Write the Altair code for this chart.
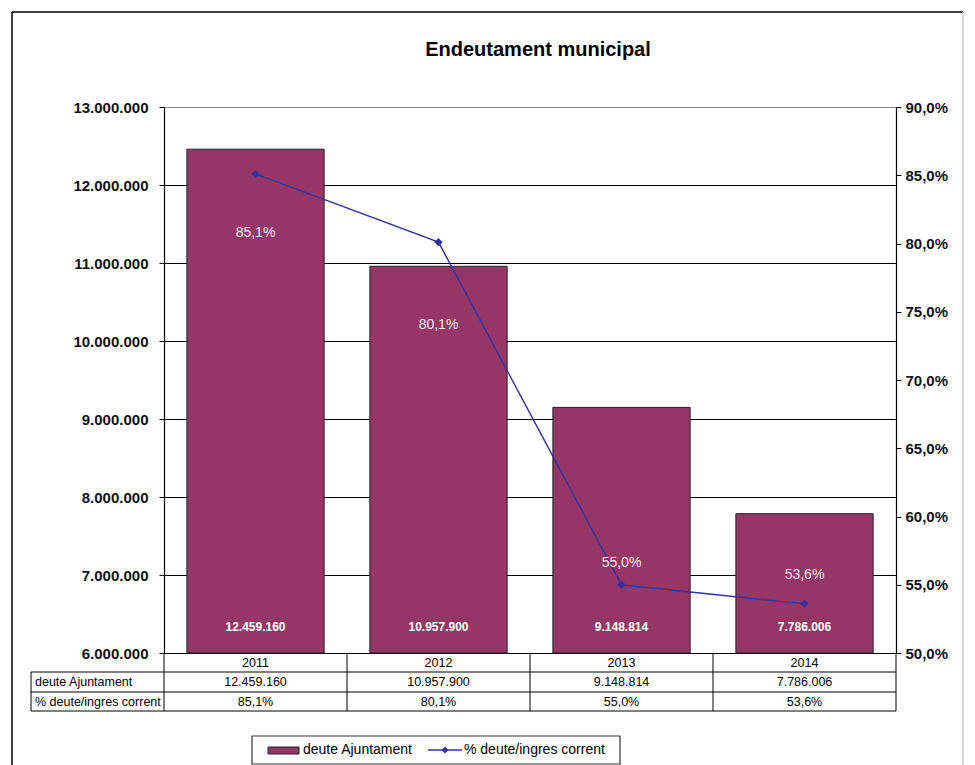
import altair as alt
import pandas as pd

# ---- data ----
years = ["2011", "2012", "2013", "2014"]
deute = [12459160, 10957900, 9148814, 7786006]
pct = [85.1, 80.1, 55.0, 53.6]
pct_label_pos = [80.8, 74.0, 56.6, 55.7]   # where the % labels sit (in % axis units)
bar_label_pos = 6330000                     # where the value labels sit (in € axis units)
row_names = ["deute Ajuntament", "% deute/ingres corrent"]
title_text = "Endeutament municipal"

df = pd.DataFrame({"year": years, "deute": deute, "pct": pct, "lab": pct_label_pos})

FONT = "Liberation Sans"
BAR = "#943767"
LINE = "#3333a0"
W, H = 732, 546

xenc = alt.X("year:N", sort=years,
             scale=alt.Scale(paddingInner=0.25, paddingOuter=0.125), axis=None)

left_scale = alt.Scale(domain=[6000000, 13000000], zero=False, nice=False)
left_axis = alt.Axis(orient="left", values=list(range(6000000, 13000001, 1000000)),
                     format=",.0f", title=None, grid=True,
                     gridColor={"condition": {"test": "datum.value >= 13000000", "value": "#888888"},
                                "value": "#000000"},
                     gridWidth=1, gridOpacity=1, domainColor="#000", domainWidth=1.2,
                     tickColor="#000", tickSize=5, labelPadding=11,
                     labelFont=FONT, labelFontSize=15, labelFontWeight="bold",
                     labelColor="#111")
right_scale = alt.Scale(domain=[50, 90], zero=False, nice=False)
right_axis = alt.Axis(orient="right", values=[50, 55, 60, 65, 70, 75, 80, 85, 90],
                      format=".1f", labelExpr="datum.label + '%'", title=None, grid=False,
                      domainColor="#000", domainWidth=1.2, tickColor="#000", tickSize=5,
                      labelPadding=4, labelFont=FONT, labelFontSize=15,
                      labelFontWeight="bold", labelColor="#111")

base = alt.Chart(df)

bars = base.mark_bar(color=BAR, stroke="#222", strokeWidth=1).encode(
    x=xenc,
    y=alt.Y("deute:Q", scale=left_scale, axis=left_axis),
    y2=alt.Y2(datum=6000000),
)
bar_text = base.mark_text(color="#ffffff", font=FONT, fontSize=12, fontWeight="bold",
                          baseline="middle").encode(
    x=xenc,
    y=alt.Y(datum=bar_label_pos, type="quantitative", scale=left_scale, axis=left_axis),
    text=alt.Text("deute:Q", format=",.0f"),
)
left = alt.layer(bars, bar_text)

line = base.mark_line(color=LINE, strokeWidth=1.5).encode(
    x=xenc, y=alt.Y("pct:Q", scale=right_scale, axis=right_axis))
pts = base.mark_point(shape="diamond", filled=True, size=70, color=LINE, opacity=1).encode(
    x=xenc, y=alt.Y("pct:Q", scale=right_scale, axis=right_axis))
pct_text = base.transform_calculate(
    pct_str="format(datum.pct, '.1f') + '%'"
).mark_text(color="#f6e9f0", font=FONT, fontSize=14, baseline="middle").encode(
    x=xenc, y=alt.Y("lab:Q", scale=right_scale, axis=right_axis), text="pct_str:N")
right = alt.layer(line, pts, pct_text)

one = pd.DataFrame({"a": [0]})


def rule(x1, x2, y1, y2, color="#000", w=1.0):
    return alt.Chart(one).mark_rule(color=color, strokeWidth=w).encode(
        x=alt.value(x1), x2=alt.value(x2), y=alt.value(y1), y2=alt.value(y2))


def label(s, x, y, size, align="left", weight="normal", color="#000"):
    return alt.Chart(one).mark_text(text=s, font=FONT, fontSize=size, align=align,
                                    baseline="middle", fontWeight=weight, color=color).encode(
        x=alt.value(x), y=alt.value(y))


decor = []
# outer frame
decor.append(rule(-152, 799, -95, -95, "#000", 1.5))
decor.append(rule(-152, -152, -95, 660, "#000", 1.5))
decor.append(rule(799, 799, -95, 660, "#c8c8c8", 1.5))
# title
decor.append(label(title_text, 374, -57, 20, "center", "bold"))
# data table
for yy in [565, 585, 604]:
    decor.append(rule(-133, W, yy, yy, "#000", 1))
decor.append(rule(-133, -133, 565, 604, "#000", 1))
for xx in [0, 183, 366, 549, W]:
    decor.append(rule(xx, xx, H, 604, "#000", 1))
decor.append(base.mark_text(font=FONT, fontSize=12.5, baseline="middle", color="#000").encode(
    x=xenc, y=alt.value(556), text="year:N"))
decor.append(base.mark_text(font=FONT, fontSize=12.5, baseline="middle", color="#000").encode(
    x=xenc, y=alt.value(575), text=alt.Text("deute:Q", format=",.0f")))
decor.append(base.transform_calculate(pct_str="format(datum.pct, '.1f') + '%'").mark_text(
    font=FONT, fontSize=12.5, baseline="middle", color="#000").encode(
    x=xenc, y=alt.value(594.5), text="pct_str:N"))
decor.append(label(row_names[0], -129, 575, 12.5))
decor.append(label(row_names[1], -129, 594.5, 12.5))
# legend
decor.append(alt.Chart(one).mark_rect(fill="#ffffff", stroke="#333", strokeWidth=1.2).encode(
    x=alt.value(88), x2=alt.value(456), y=alt.value(629), y2=alt.value(657)))
decor.append(alt.Chart(one).mark_rect(fill=BAR, stroke="#222", strokeWidth=1).encode(
    x=alt.value(104), x2=alt.value(135), y=alt.value(640), y2=alt.value(647)))
decor.append(label(row_names[0], 139, 643, 14))
decor.append(rule(264, 298, 643, 643, LINE, 1.5))
decor.append(alt.Chart(one).mark_point(shape="diamond", filled=True, size=50, color=LINE,
                                       opacity=1).encode(x=alt.value(281), y=alt.value(643)))
decor.append(label(row_names[1], 300, 643, 14))

chart = alt.layer(left, right, *decor).resolve_scale(y="independent").properties(
    width=W, height=H,
    padding={"left": 3, "top": 3, "right": 0, "bottom": 0},
    background="#ffffff",
).configure_view(stroke=None).configure(
    locale={"number": {"decimal": ",", "thousands": ".", "grouping": [3],
                       "currency": ["", " €"]}}
)

chart.save("out.html", embed_options={"renderer": "svg", "actions": False})
